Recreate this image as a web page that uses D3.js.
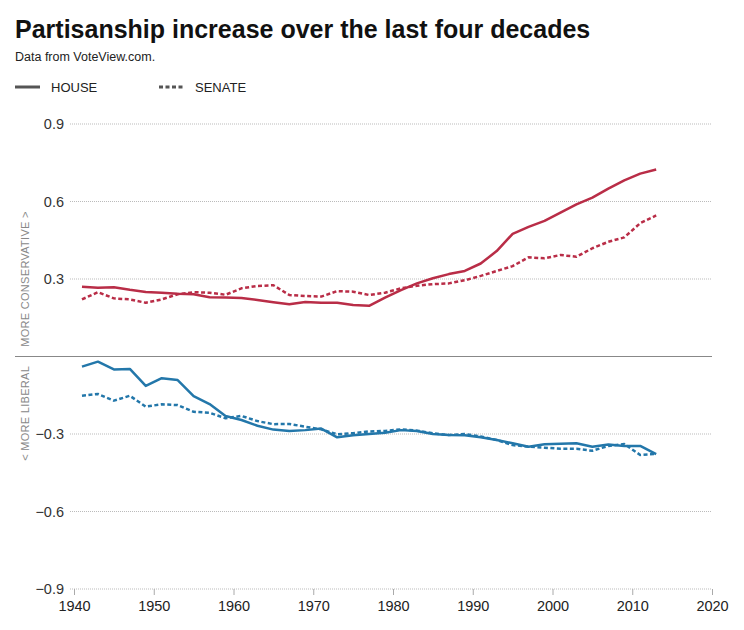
<!DOCTYPE html>
<html lang="en">
<head>
    <meta charset="UTF-8">
    <title>Partisanship increase over the last four decades</title>
    <script src="https://cdn.jsdelivr.net/npm/d3@7"></script>
    <style>
        body { margin: 0; background: #fff; }
        svg { font-family: "Liberation Sans", Arial, sans-serif; }
    </style>
</head>
<body>
    <div id="chart"></div>
    <script>
        // one Congress every two years
        const years = d3.range(1941, 2014, 2);

        const houseRep = [0.270, 0.266, 0.268, 0.258, 0.250, 0.247, 0.243, 0.241, 0.229, 0.228,
            0.226, 0.219, 0.210, 0.202, 0.211, 0.208, 0.208, 0.199, 0.196, 0.228,
            0.257, 0.283, 0.303, 0.319, 0.331, 0.360, 0.408, 0.475, 0.502, 0.525,
            0.557, 0.589, 0.615, 0.650, 0.682, 0.708, 0.724];
        const senateRep = [0.221, 0.249, 0.225, 0.221, 0.208, 0.221, 0.241, 0.249, 0.247, 0.239,
            0.264, 0.273, 0.276, 0.238, 0.234, 0.232, 0.253, 0.251, 0.238, 0.247,
            0.264, 0.274, 0.280, 0.283, 0.295, 0.312, 0.331, 0.350, 0.384, 0.380,
            0.393, 0.386, 0.419, 0.444, 0.461, 0.516, 0.546];
        const houseDem = [-0.039, -0.020, -0.050, -0.048, -0.114, -0.084, -0.091, -0.153, -0.184, -0.230,
            -0.246, -0.268, -0.283, -0.288, -0.285, -0.279, -0.313, -0.305, -0.300, -0.295,
            -0.285, -0.288, -0.300, -0.304, -0.305, -0.313, -0.323, -0.336, -0.349, -0.340,
            -0.338, -0.336, -0.349, -0.341, -0.346, -0.346, -0.378];
        const senateDem = [-0.152, -0.145, -0.171, -0.152, -0.194, -0.185, -0.188, -0.214, -0.218, -0.239,
            -0.230, -0.250, -0.262, -0.261, -0.272, -0.282, -0.301, -0.297, -0.290, -0.288,
            -0.282, -0.287, -0.297, -0.304, -0.300, -0.310, -0.323, -0.343, -0.349, -0.353,
            -0.357, -0.357, -0.365, -0.346, -0.339, -0.381, -0.377];

        const yTicks = [-0.9, -0.6, -0.3, 0.3, 0.6, 0.9];
        const xTicks = d3.range(1940, 2021, 10);

        const red = "#b92d47", blue = "#2377aa";

        const width = 744, height = 630;
        const svg = d3.select("#chart").append("svg")
            .attr("width", width)
            .attr("height", height);

        const x = d3.scaleLinear().domain([1940, 2020]).range([74, 712]);
        const y = d3.scaleLinear().domain([-0.9, 0.9]).range([589, 124]);

        // title block
        svg.append("text")
            .attr("x", 15).attr("y", 38)
            .style("font-size", "25px").style("font-weight", "bold").style("fill", "#111")
            .text("Partisanship increase over the last four decades");
        svg.append("text")
            .attr("x", 15).attr("y", 61)
            .style("font-size", "12.5px").style("fill", "#222")
            .text("Data from VoteView.com.");

        // legend
        const legend = [
            { label: "HOUSE", dash: null, x: 15 },
            { label: "SENATE", dash: "4,2.5", x: 159 }
        ];
        legend.forEach(d => {
            svg.append("line")
                .attr("x1", d.x).attr("x2", d.x + 25)
                .attr("y1", 87).attr("y2", 87)
                .attr("stroke", "#555").attr("stroke-width", 3)
                .attr("stroke-dasharray", d.dash);
            svg.append("text")
                .attr("x", d.x + 36).attr("y", 91.5)
                .style("font-size", "13px").style("fill", "#222")
                .text(d.label);
        });

        // grid + y ticks
        const grid = svg.append("g");
        grid.selectAll("line")
            .data(yTicks)
            .join("line")
            .attr("x1", 70).attr("x2", 712)
            .attr("y1", d => y(d)).attr("y2", d => y(d))
            .attr("stroke", "#bbb").attr("stroke-width", 1)
            .attr("stroke-dasharray", "1,1");
        grid.selectAll("text")
            .data(yTicks)
            .join("text")
            .attr("x", 64).attr("y", d => y(d) + 5)
            .attr("text-anchor", "end")
            .style("font-size", "14.5px").style("fill", "#333")
            .text(d => d3.format(".1f")(d));

        // zero line
        svg.append("line")
            .attr("x1", 15).attr("x2", 712)
            .attr("y1", y(0)).attr("y2", y(0))
            .attr("stroke", "#888").attr("stroke-width", 1.2);

        // x axis
        const xAxis = svg.append("g")
            .attr("transform", `translate(0,${y(-0.9)})`)
            .call(d3.axisBottom(x).tickValues(xTicks).tickFormat(d3.format("d")).tickSize(6).tickPadding(6));
        xAxis.select(".domain").remove();
        xAxis.selectAll("line").attr("stroke", "#aaa");
        xAxis.selectAll("text")
            .style("font-size", "14.5px").style("fill", "#222")
            .style("font-family", "'Liberation Sans', Arial, sans-serif");

        // axis side labels
        svg.append("text")
            .attr("transform", `translate(29,${y(0.3)}) rotate(-90)`)
            .attr("text-anchor", "middle")
            .style("font-size", "11px").style("fill", "#888").style("letter-spacing", "0.3px")
            .text("MORE CONSERVATIVE >");
        svg.append("text")
            .attr("transform", `translate(29,${y(-0.22)}) rotate(-90)`)
            .attr("text-anchor", "middle")
            .style("font-size", "11px").style("fill", "#888").style("letter-spacing", "0.3px")
            .text("< MORE LIBERAL");

        // series
        const series = [
            { values: senateRep, color: red, dash: "4,2.5" },
            { values: houseRep, color: red, dash: null },
            { values: senateDem, color: blue, dash: "4,2.5" },
            { values: houseDem, color: blue, dash: null }
        ];

        const line = d3.line()
            .x((d, i) => x(years[i]))
            .y(d => y(d));

        svg.append("g")
            .selectAll("path")
            .data(series)
            .join("path")
            .attr("d", d => line(d.values))
            .attr("fill", "none")
            .attr("stroke", d => d.color)
            .attr("stroke-width", 2.5)
            .attr("stroke-linejoin", "round")
            .attr("stroke-dasharray", d => d.dash);
    </script>
</body>
</html>
